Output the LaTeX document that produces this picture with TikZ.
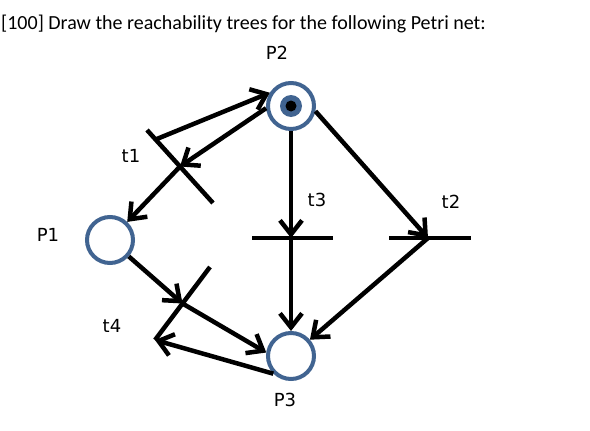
\documentclass[tikz,border=0pt]{standalone}
\usepackage{fontspec}
\setmainfont{Carlito}
\newfontfamily\labelfont{DejaVu Sans}
\usetikzlibrary{arrows.meta,calc}
\definecolor{placeblue}{RGB}{65,100,145}
\begin{document}
\begin{tikzpicture}[x=1pt,y=-1pt,
  place/.style={circle,draw=placeblue,line width=4pt,minimum size=46pt,inner sep=0pt,fill=white},
  bar/.style={line width=4.5pt},
  arc/.style={line width=4.5pt,-{Straight Barb[length=14pt,width=22pt]}},
  lbl/.style={font=\labelfont\fontsize{18}{20}\selectfont,inner sep=0pt},
  ttl/.style={font=\fontsize{20}{24}\selectfont,inner sep=0pt,anchor=base west}]
\useasboundingbox (0,0) rectangle (590,431);
% title
\node[ttl] (title) at (1,29) {[100] Draw the reachability trees for the following Petri net:};
% places
\node[place] (P2) at (291,106) {};
\node[place] (P1) at (110,240) {};
\node[place] (P3) at (291,356) {};
% token
\fill[placeblue] (P2.center) circle (11pt);
\fill[black] (P2.center) circle (5.5pt);
% transitions
\coordinate (t1a) at (147,130);
\coordinate (t1b) at (213,203);
\coordinate (t1) at (180,166.5);
\coordinate (t4a) at (210,267);
\coordinate (t4b) at (155,340);
\coordinate (t4) at (182.5,303.5);
\coordinate (t3a) at (252,238);
\coordinate (t3b) at (333,238);
\coordinate (t3) at (291,238);
\coordinate (t2a) at (389,238);
\coordinate (t2b) at (471,238);
\coordinate (t2) at (428,238);
\draw[bar] (t1a) -- (t1b);
\draw[bar] (t4a) -- (t4b);
\draw[bar] (t3a) -- (t3b);
\draw[bar] (t2a) -- (t2b);
% arcs
\draw[arc] ($(t1a)!0.13!(t1b)$) -- (P2.148);
\draw[arc] (P2.185) -- (t1);
\draw[arc] (t1) -- (P1);
\draw[arc] (P1) -- (t4);
\draw[arc] (t4) -- (P3.172);
\draw[arc] (P3.225) -- (t4b);
\draw[arc] (P2) -- (t3);
\draw[arc] (t3) -- (P3);
\draw[arc] (P2.-12) -- (t2);
\draw[arc] (t2) -- (P3);
% labels
\node[lbl] (lP2) at (277,53) {P2};
\node[lbl] (lP1) at (48,235) {P1};
\node[lbl] (lP3) at (285,400) {P3};
\node[lbl] (lt1) at (131,156) {t1};
\node[lbl] (lt4) at (112,326) {t4};
\node[lbl] (lt3) at (317,200) {t3};
\node[lbl] (lt2) at (451,202) {t2};
\end{tikzpicture}
\end{document}
